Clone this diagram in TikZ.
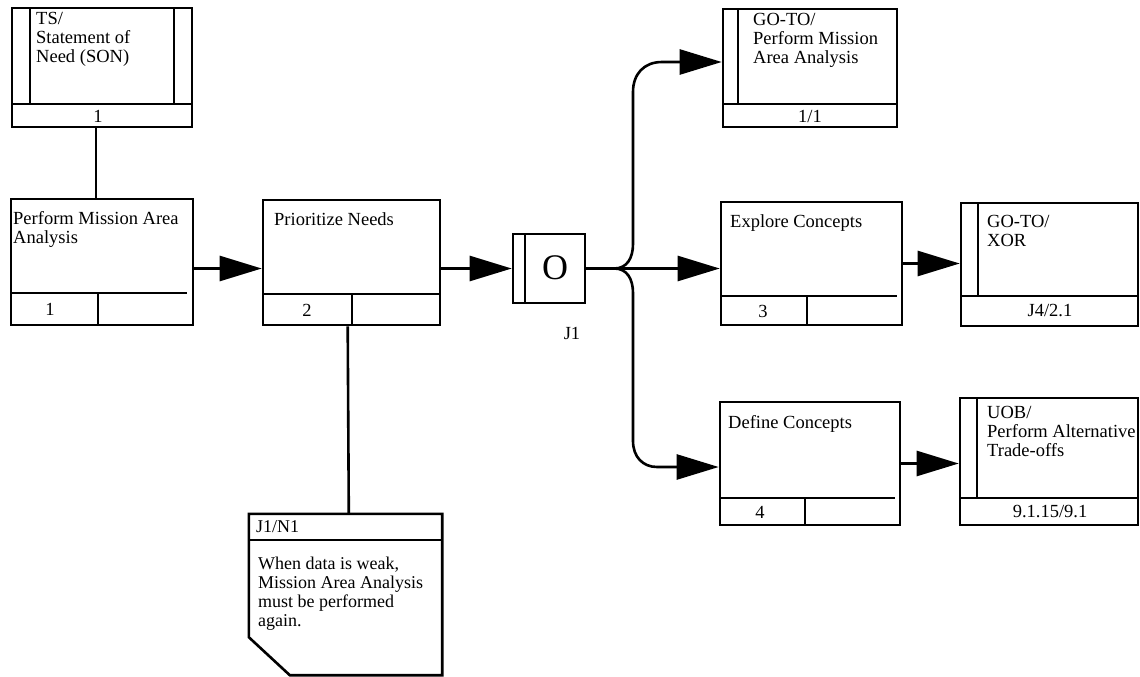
\documentclass[tikz,border=0pt]{standalone}
\usepackage{fontspec}
\setmainfont{Liberation Serif}
\usetikzlibrary{arrows.meta,fit,calc}
\begin{document}
\begin{tikzpicture}[x=1pt,y=-1pt,
  frame/.style={draw, line width=2.6pt, inner sep=0pt, fit={#1}},
  ghost/.style={inner sep=0pt, fit={#1}},
  lbl/.style={anchor=north west, inner sep=0pt, align=left, font=\fontsize{18.5}{19}\selectfont},
  num/.style={inner sep=0pt, font=\fontsize{18.5}{19}\selectfont},
  rule/.style={line width=2.6pt},
  conn/.style={line width=2.6pt},
  arr/.style={conn, -{Triangle[length=42pt,width=25pt]}},
]
\useasboundingbox (0,0) rectangle (1140,677);

% ---------- boxes ----------
\node[frame={(12,8) (192,127)}] (ts) {};
\draw[rule] (12,104) -- (192,104);
\draw[rule] (30,8) -- (30,104);
\draw[rule] (174,8) -- (174,104);
\node[lbl] (tst) at (36,12) {TS/\\Statement of\\Need (SON)};
\node[num] (tsn) at (98,116) {1};

\node[frame={(11,199) (193,325)}] (b1) {};
\draw[rule] (11,293) -- (187,293);
\draw[rule] (98,293) -- (98,325);
\node[lbl] (b1t) at (13,211) {Perform Mission Area\\Analysis};
\node[num] (b1n) at (50,309) {1};

\node[frame={(263,200) (440,325)}] (b2) {};
\draw[rule] (263,294) -- (440,294);
\draw[rule] (352,294) -- (352,325);
\node[lbl] (b2t) at (274,212) {Prioritize Needs};
\node[num] (b2n) at (307,310) {2};

\node[frame={(513,234) (585,303)}] (j1) {};
\draw[rule] (525,234) -- (525,303);
\node[inner sep=0pt, font=\fontsize{36}{36}\selectfont] (j1o) at (555,268) {O};
\node[num] (j1l) at (572,333) {J1};

\node[frame={(723,9) (897,127)}] (g1) {};
\draw[rule] (723,104) -- (897,104);
\draw[rule] (738,9) -- (738,104);
\node[lbl] (g1t) at (753,13) {GO-TO/\\Perform Mission\\Area Analysis};
\node[num] (g1n) at (810,116) {1/1};

\node[frame={(721,202) (902,325)}] (b3) {};
\draw[rule] (721,296) -- (897,296);
\draw[rule] (807,296) -- (807,325);
\node[lbl] (b3t) at (730,214) {Explore Concepts};
\node[num] (b3n) at (763,311) {3};

\node[frame={(961,203) (1138,326)}] (g2) {};
\draw[rule] (961,296) -- (1138,296);
\draw[rule] (978,203) -- (978,296);
\node[lbl] (g2t) at (987,215) {GO-TO/\\XOR};
\node[num] (g2n) at (1050,311) {J4/2.1};

\node[frame={(720,402) (900,525)}] (b4) {};
\draw[rule] (720,498) -- (895,498);
\draw[rule] (805,498) -- (805,525);
\node[lbl] (b4t) at (728,415) {Define Concepts};
\node[num] (b4n) at (760,512) {4};

\node[frame={(960,398) (1138,525)}] (u1) {};
\draw[rule] (960,498) -- (1138,498);
\draw[rule] (977,398) -- (977,498);
\node[lbl] (u1t) at (987,406) {UOB/\\Perform Alternative\\Trade-offs};
\node[num] (u1n) at (1050,512) {9.1.15/9.1};

% ---------- note ----------
\node[ghost={(249,514) (442,675)}] (note) {};
\draw[rule, line join=miter] (note.north west) -- (note.north east) -- (note.south east)
  -- ($(note.south west)+(41,0)$) -- ($(note.south west)+(0,-38)$) -- cycle;
\draw[rule] (249,540) -- (442,540);
\node[lbl, font=\fontsize{18}{18.5}\selectfont] (nh) at (256,520) {J1/N1};
\node[lbl, font=\fontsize{18}{19}\selectfont] (nt) at (258,557) {When data is weak,\\Mission Area Analysis\\must be performed\\again.};

% ---------- connectors ----------
\draw[conn] ([xshift=-6pt]ts.south) -- ([xshift=-6pt]b1.north);
\draw[arr] (b1.east |- j1.west) -- (b2.west |- j1.west);
\draw[arr] (b2.east |- j1.west) -- (j1.west);
\draw[conn] ($(b2.south west)+(86,0)$) -- ($(note.north west)+(100,0)$);

\coordinate (fk) at ($(j1.east)+(28,0)$);
\draw[conn] (j1.east) -- (fk);
\draw[arr] (fk) -- (b3.west |- fk);
\draw[arr] (fk) .. controls (627,268.5) and (633,258) .. (633,244) -- (633,92)
  .. controls (633,74) and (644,62) .. (662,62) -- ([yshift=6pt]g1.west);
\draw[arr] (fk) .. controls (627,268.5) and (633,279) .. (633,293) -- (633,441)
  .. controls (633,457) and (643,467) .. (657,467) -- ([yshift=-3.5pt]b4.west);
\draw[arr] (b3.east) -- (g2.west |- b3.east);
\draw[arr] (b4.east) -- (u1.west |- b4.east);
\end{tikzpicture}
\end{document}
